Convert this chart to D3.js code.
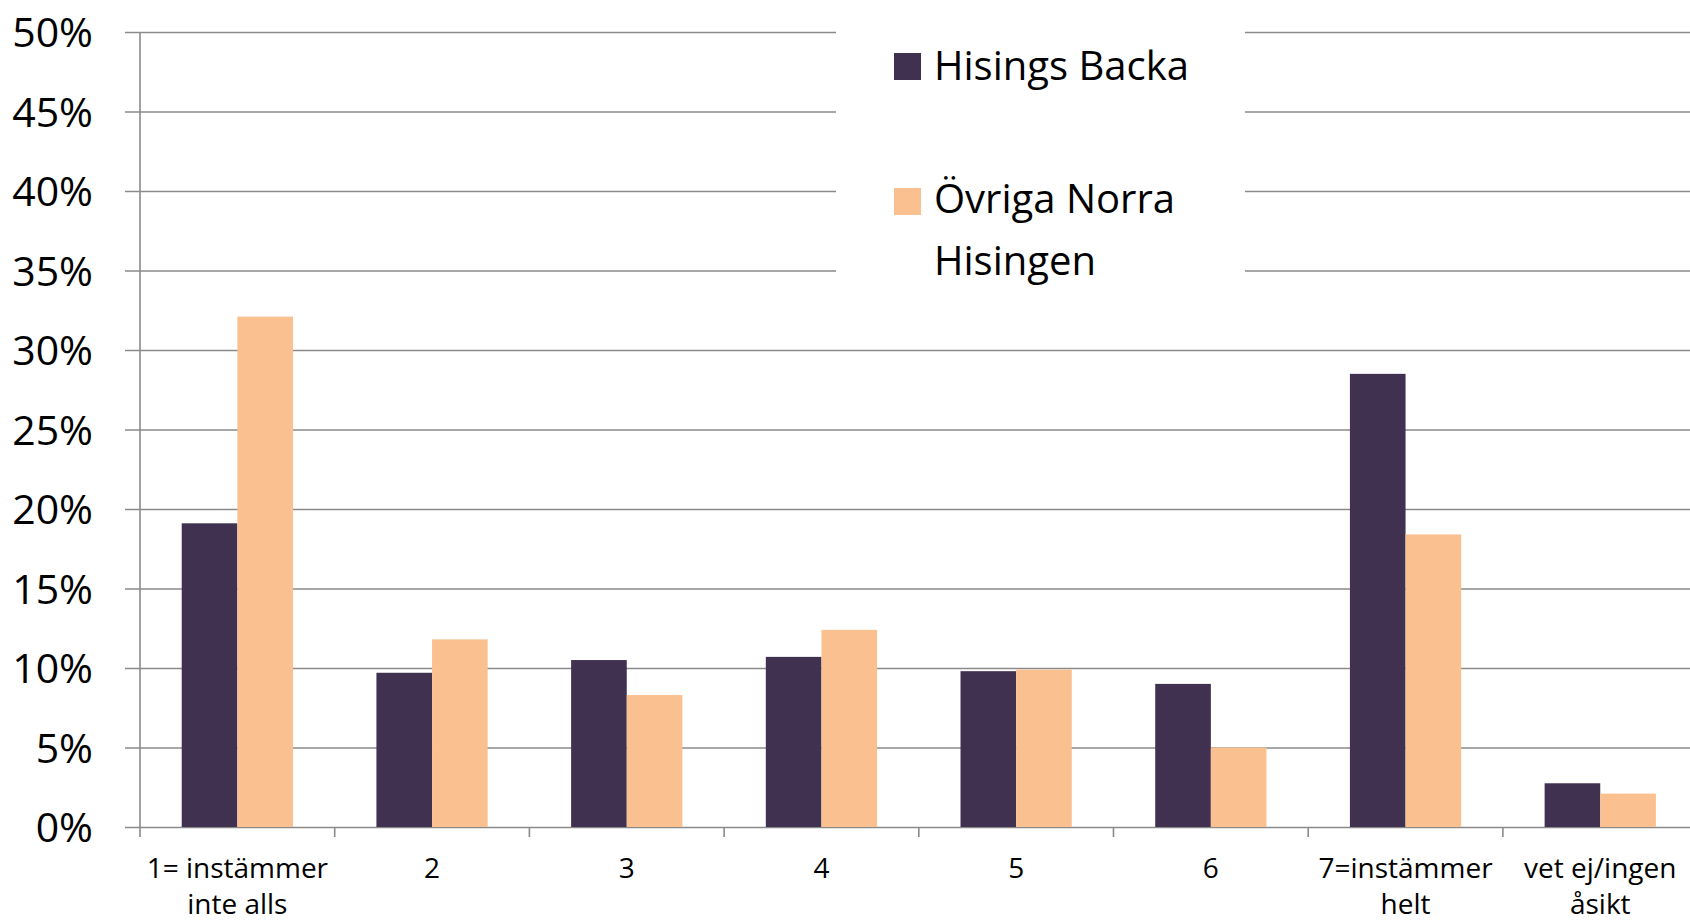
<!DOCTYPE html>
<html>
<head>
<meta charset="utf-8">
<script src="https://cdn.jsdelivr.net/npm/d3@7"></script>
<style>
  html, body { margin: 0; padding: 0; background: #fff; }
  svg { display: block; }
  text { font-family: "Open Sans", "Noto Sans", sans-serif; fill: #000; }
</style>
</head>
<body>
<svg id="chart" width="1690" height="920"></svg>
<script>
// ---- data ----
const categories = ["1", "2", "3", "4", "5", "6", "7", "vet ej"];
const categoryLabels = [
  ["1= instämmer", "inte alls"],
  ["2"], ["3"], ["4"], ["5"], ["6"],
  ["7=instämmer", "helt"],
  ["vet ej/ingen", "åsikt"]
];
const seriesNames = ["Hisings Backa", "Övriga Norra Hisingen"];
const hisingsBacka = [19.1, 9.7, 10.5, 10.7, 9.8, 9.0, 28.5, 2.75];
const ovrigaNorraHisingen = [32.1, 11.8, 8.3, 12.4, 9.9, 5.0, 18.4, 2.1];
const yTicks = [0, 5, 10, 15, 20, 25, 30, 35, 40, 45, 50];

// ---- layout ----
const svg = d3.select("#chart");
const W = 1690;
const axisX = 140, y0 = 827, yTop = 32;
const bandStep = 194.7;
const colors = ["#403151", "#FAC090"];
const gridColor = "#8a8a8a";

const x = d3.scaleBand().domain(categories)
  .range([axisX, axisX + bandStep * categories.length])
  .paddingInner(0).paddingOuter(0);
const xs = d3.scaleBand().domain([0, 1])
  .range([0, x.bandwidth()]).paddingInner(0).paddingOuter(0.75);
const y = d3.scaleLinear().domain([0, 50]).range([y0, yTop]);

// gridlines + y labels
const yAxis = d3.axisLeft(y).tickValues(yTicks)
  .tickFormat(d => d + "%")
  .tickSize(-(W - 125)).tickPadding(32);
const gy = svg.append("g").attr("transform", "translate(125,0)").call(yAxis);
gy.select(".domain").remove();
gy.selectAll(".tick line").attr("stroke", gridColor).attr("stroke-width", 1.6);
gy.selectAll(".tick text")
  .attr("font-size", 41)
  .attr("font-family", "'Open Sans', sans-serif")
  .attr("fill", "#000")
  .attr("dy", "0.36em");

// legend background (hides gridlines behind legend)
svg.append("rect").attr("x", 836).attr("y", 0).attr("width", 409).attr("height", 300)
  .attr("fill", "#fff");

// y axis line
svg.append("line").attr("x1", axisX).attr("x2", axisX)
  .attr("y1", y(50)).attr("y2", y(0))
  .attr("stroke", gridColor).attr("stroke-width", 1.6);

// x axis tick marks at category boundaries
svg.append("g").selectAll("line").data(categories).join("line")
  .attr("x1", d => x(d)).attr("x2", d => x(d))
  .attr("y1", y(0)).attr("y2", y(0) + 10)
  .attr("stroke", gridColor).attr("stroke-width", 1.6);

// bars
const series = [hisingsBacka, ovrigaNorraHisingen];
series.forEach((vals, si) => {
  svg.append("g").selectAll("rect").data(categories).join("rect")
    .attr("x", (d, i) => x(d) + xs(si))
    .attr("width", xs.bandwidth())
    .attr("y", (d, i) => y(vals[i]))
    .attr("height", (d, i) => y(0) - y(vals[i]))
    .attr("fill", colors[si]);
});

// x labels
const xl = svg.append("g").selectAll("text").data(categories).join("text")
  .attr("text-anchor", "middle")
  .attr("font-size", 28);
xl.each(function (d, i) {
  const t = d3.select(this);
  categoryLabels[i].forEach((line, li) => {
    t.append("tspan")
      .attr("x", x(d) + x.bandwidth() / 2)
      .attr("y", 878 + li * 36)
      .text(line);
  });
});

// legend
const legend = svg.append("g");
const legendItems = [
  { lines: ["Hisings Backa"], sy: 53, ty: 80 },
  { lines: ["Övriga Norra", "Hisingen"], sy: 188, ty: 213 }
];
legendItems.forEach((item, i) => {
  legend.append("rect").attr("x", 894).attr("y", item.sy)
    .attr("width", 27).attr("height", 27).attr("fill", colors[i]);
  const t = legend.append("text").attr("font-size", 40);
  item.lines.forEach((line, li) => {
    t.append("tspan").attr("x", 934).attr("y", item.ty + li * 62).text(line);
  });
});
</script>
</body>
</html>
